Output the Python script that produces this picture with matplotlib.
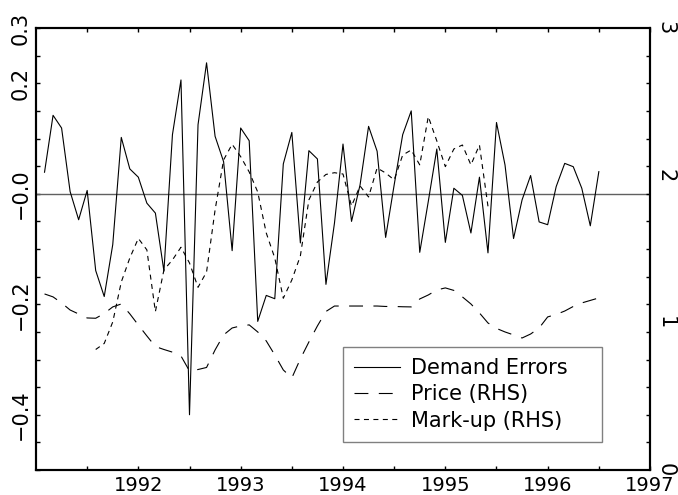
import numpy as np
import matplotlib
matplotlib.use("Agg")
import matplotlib.pyplot as plt
from matplotlib.ticker import FixedLocator, NullFormatter

plt.rcParams['font.family'] = ['DejaVu Sans']
plt.rcParams['lines.scale_dashes'] = False

# monthly data, Feb 1991 .. Jul 1996
demand_errors = [0.039, 0.142, 0.119, 0.004, -0.047, 0.006, -0.139, -0.186, -0.092, 0.102,
                 0.045, 0.030, -0.017, -0.035, -0.140, 0.107, 0.206, -0.400, 0.125, 0.237,
                 0.104, 0.058, -0.103, 0.119, 0.096, -0.231, -0.184, -0.190, 0.054, 0.111,
                 -0.089, 0.078, 0.063, -0.164, -0.053, 0.090, -0.050, 0.016, 0.122, 0.077,
                 -0.079, 0.016, 0.107, 0.150, -0.106, -0.014, 0.081, -0.088, 0.010, -0.003,
                 -0.071, 0.030, -0.107, 0.129, 0.052, -0.081, -0.011, 0.033, -0.051, -0.056,
                 0.013, 0.055, 0.049, 0.010, -0.058, 0.040]
price = [1.195, 1.175, 1.134, 1.086, 1.059, 1.032, 1.030, 1.062, 1.107, 1.127,
         1.060, 0.984, 0.910, 0.838, 0.818, 0.800, 0.774, 0.672, 0.682, 0.696,
         0.815, 0.917, 0.964, 0.978, 0.985, 0.937, 0.876, 0.781, 0.679, 0.625,
         0.754, 0.869, 0.978, 1.076, 1.113, 1.113, 1.113, 1.113, 1.113, 1.113,
         1.110, 1.110, 1.108, 1.107, 1.161, 1.188, 1.222, 1.236, 1.219, 1.175,
         1.127, 1.066, 0.998, 0.961, 0.937, 0.917, 0.896, 0.923, 0.964, 1.039,
         1.056, 1.079, 1.110, 1.134, 1.151, 1.168]
# mark-up: Aug 1991 .. Jun 1995
markup = [0.818, 0.859, 1.005, 1.276, 1.439, 1.572, 1.494, 1.075, 1.358, 1.426,
          1.512, 1.405, 1.240, 1.344, 1.765, 2.105, 2.211, 2.127, 2.023, 1.887,
          1.609, 1.439, 1.166, 1.290, 1.453, 1.833, 1.955, 2.006, 2.018, 2.009,
          1.792, 1.928, 1.853, 2.050, 2.016, 1.969, 2.138, 2.172, 2.071, 2.399,
          2.234, 2.059, 2.179, 2.206, 2.071, 2.206, 1.790]

t = 1991 + np.arange(1, 67) / 12.
t_markup = t[6:6 + len(markup)]

fig = plt.figure(figsize=(6.78, 4.95), dpi=100)
ax = fig.add_axes([0.0531, 0.0505, 0.9056, 0.8929])
ax2 = ax.twinx()

ax.axhline(0, color='#606060', lw=1.0)
l1, = ax.plot(t, demand_errors, color='black', lw=0.8, label="Demand Errors")
l2, = ax2.plot(t, price, color='black', lw=0.8, dashes=(10, 7.5), label="Price (RHS)")
l3, = ax2.plot(t_markup, markup, color='black', lw=0.8, dashes=(3.6, 3.2), label="Mark-up (RHS)")

ax.set_xlim(1991, 1997)
ax.set_ylim(-0.5, 0.3)
ax2.set_ylim(0, 3)

ax.xaxis.set_major_locator(FixedLocator([1992, 1993, 1994, 1995, 1996, 1997]))
ax.xaxis.set_minor_locator(FixedLocator(np.arange(1991.5, 1997, 1.0)))
ax.set_xticklabels(["1992", "1993", "1994", "1995", "1996", "1997"])

ax.yaxis.set_major_locator(FixedLocator([0.3, 0.2, 0.0, -0.2, -0.4]))
ax.set_yticklabels(["0.3", "0.2", "\u22120.0", "\u22120.2", "\u22120.4"])
ax.yaxis.set_minor_locator(FixedLocator(np.arange(-0.5, 0.31, 0.05)))

ax2.yaxis.set_major_locator(FixedLocator([0, 1, 2, 3]))
ax2.set_yticklabels(["0", "1", "2", "3"])
ax2.yaxis.set_minor_locator(FixedLocator(np.linspace(0, 3, 17)))
ax2.yaxis.set_minor_formatter(NullFormatter())

ax.tick_params(axis='x', which='both', direction='in', top=True, length=3, width=1,
               labelsize=14, pad=4)
ax.tick_params(axis='y', which='both', direction='in', right=False, length=3, width=1,
               labelsize=15, pad=4, labelrotation=90)
ax2.tick_params(axis='y', which='major', length=0, labelsize=15, pad=4, labelrotation=-90)
ax2.tick_params(axis='y', which='minor', direction='in', length=3, width=1)
for lab in ax.get_yticklabels():
    lab.set_va('center')
for lab in ax2.get_yticklabels():
    lab.set_va('center')

for a in (ax, ax2):
    for s in a.spines.values():
        s.set_linewidth(1.5)

leg = ax2.legend(handles=[l1, l2, l3], loc='lower left',
                 bbox_to_anchor=(0.5, 0.063, 0.422, 0.211), mode='expand',
                 fontsize=15, frameon=True, fancybox=False, handlelength=2.2,
                 handletextpad=0.5, labelspacing=0.3, borderpad=0.55, borderaxespad=0)
leg.get_frame().set_edgecolor('#606060')
leg.get_frame().set_linewidth(1.0)

fig.savefig("out.png", dpi=100)
